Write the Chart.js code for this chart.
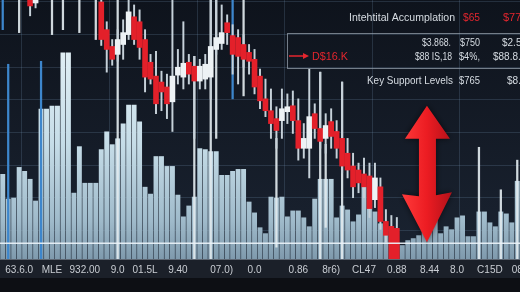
<!DOCTYPE html>
<html><head><meta charset="utf-8">
<script src="https://cdn.jsdelivr.net/npm/chart.js@4/dist/chart.umd.min.js"></script>
<style>html,body{margin:0;padding:0;background:#0e1117;}#wrap{width:520px;height:292px;position:relative;overflow:hidden}</style>
</head><body><div id="wrap"><canvas id="c" width="520" height="292"></canvas></div>
<script>
// ---------- DATA ----------
const slotCount = 95;
const volumes = [86,61,62,93,89,81,59,152,152,155,
 155,209,209,67,114,77,77,77,111,129,
 116,122,137,156,156,139,73,66,104,104,
 94,94,65,43,54,63,112,111,109,109,
 85,85,89,91,91,58,47,32,26,63,
 62,63,43,49,49,42,33,61,81,81,
 81,42,54,50,38,45,73,56,48,36,
 33,22,17,14,19,21,24,33,39,41,
 26,33,30,42,44,23,23,48,48,37,
 33,48,46,37,79];
const candleSlots = [5,6,18,19,20,21,22,23,24,25,26,27,28,29,30,31,32,33,34,35,36,37,38,39,40,41,42,43,44,45,46,47,48,49,50,51,52,53,54,55,56,57,58,59,60,61,62,63,64,65,66,67,68,69,70,71,72];
const candleOpen = [191,189.5,190,176,167.5,163.5,168.5,173.5,182.5,180,171,159.5,152.5,149.5,147,139.5,153,152,159.5,157.5,150,151,152,166,169,179.5,173,172,168.5,164.5,161,152.5,141,135,131,130,134.5,137.5,130,116,116,133.5,126,121,129.5,124.5,121,113.5,107,105,103,102,90,96.5,79,76.5,75.5];
const candleHigh = [191,191,191,180,171,176,181,191,188.5,186,176,163.5,165,155,153.5,191,166,180,163.5,162.5,161,163.5,191,191,188.5,183.5,178.5,176,173.5,168.5,166,156,151,146,137,146,143.5,145,141,128.5,156,138.5,154.5,133.5,136,130,149.5,121,113.5,108.5,111,108.5,108.5,101,85,82,81];
const candleLow = [183,187,168,154.5,158,160,161,171,168.5,161,144.5,148.5,133.5,135,131,124.5,148.5,146,148.5,121,146,146,141,163.5,166,168.5,153.5,148.5,157,153.5,143.5,136,132,121,116,121,128.5,123.5,110,111,101,121,116,113.5,116,111,103.5,101,91,93.5,91,81,86,75,68.5,60,60];
const candleClose = [188,191,171,166,161,171,174.5,185,171,167,152,151,138.5,144.5,138.5,152.5,157,159,153.5,150,157.5,158.5,167.5,172,174.5,174.5,163.5,162.5,161,160,147,140,135,128.5,125,136,137,130,116,121,132,126,119.5,127.5,122,116,107,105,96.5,98.5,96.5,85.5,101,79,72,60,60];
const spikeSlots = [0,1,3,7,9,11,14,17,21,35,38,39,42,44,50,58,59,62,87,91,94];
const spikeLow  = [176,60,174.5,60,173.5,176,174.5,171,60,60,60,121,141,142.5,66,60,76,60,60,60,60];
const spikeHigh = [191,158.5,191,160,191,191,191,191,191,162.5,191,191,191,191,121,154.5,118,149.5,116.5,95,110];
const tickLabels = ["63.6.0","MLE","932.00","9.0","01.5L","9.40","07.0)","0.0","0.86","8r6)","CL47","0.88","8.44","8.0","C15D","08"];
const tickSlots  = [3,9,15,21,26,32,40,46,54,60,66,72,78,83,89,94];
const priceGrid = [74.5, 91, 107.5, 124, 140.5, 157, 173.5, 190];
const timeGridSlots = [4, 20, 36, 52, 68, 84];
const supportLevel = 68;
const arrowSlot = 77.5, arrowHigh = 137.5, arrowLow = 68.5;

// ---------- STYLE ----------
const RED = '#e3202a', WHITE = '#edf2f5', WICK = '#c6d1d9';
const GRID = 'rgba(120,150,180,0.22)';
const blueSpikes = new Set([0,1,7,42]);

const slots = Array.from({length: slotCount}, (_, i) => i);
const bodyData = slots.map(() => null);
const wickData = slots.map(() => null);
const bodyColors = slots.map(() => 'rgba(0,0,0,0)');
candleSlots.forEach((s, k) => {
  bodyData[s] = [candleOpen[k], candleClose[k]];
  wickData[s] = [candleLow[k], candleHigh[k]];
  bodyColors[s] = candleClose[k] >= candleOpen[k] ? WHITE : RED;
});
const spikeData = slots.map(() => null);
const spikeColors = slots.map(() => '#dfe7ec');
spikeSlots.forEach((s, k) => {
  spikeData[s] = [spikeLow[k], spikeHigh[k]];
  spikeColors[s] = blueSpikes.has(s) ? '#3d86cc' : 'rgba(225,233,238,0.92)';
});
const labelAt = slots.map(() => '');
tickSlots.forEach((s, k) => { labelAt[s] = tickLabels[k]; });
const gridSet = new Set(timeGridSlots);

function volGradient(c) {
  const ch = c.chart, ca = ch.chartArea;
  if (!ca) return '#c0d6e2';
  const g = ch.ctx.createLinearGradient(0, ca.top, 0, ca.bottom);
  g.addColorStop(0, '#f0f9fc');
  g.addColorStop(0.55, '#c6dde8');
  g.addColorStop(0.85, '#a0bbcb');
  g.addColorStop(1, '#7f9aad');
  return g;
}

const bgPlugin = {
  id: 'bg',
  beforeDraw(chart) {
    const { ctx, chartArea: ca, width, height } = chart;
    ctx.save();
    ctx.fillStyle = '#0d0f14';
    ctx.fillRect(0, 0, width, height);
    const g = ctx.createLinearGradient(0, ca.top, 0, ca.bottom);
    g.addColorStop(0, '#0e131c');
    g.addColorStop(1, '#1a2331');
    ctx.fillStyle = g;
    ctx.fillRect(ca.left, ca.top, ca.right - ca.left, ca.bottom - ca.top);
    ctx.fillStyle = '#1b2029';
    ctx.fillRect(0, ca.bottom, width, 19);
    ctx.restore();
  }
};

const overlayPlugin = {
  id: 'overlay',
  afterDatasetsDraw(chart) {
    const { ctx, chartArea: ca, scales } = chart;
    ctx.save();
    const ys = scales.y.getPixelForValue(supportLevel);
    ctx.strokeStyle = 'rgba(236,243,248,0.92)';
    ctx.lineWidth = 1.5;
    ctx.beginPath(); ctx.moveTo(ca.left, ys); ctx.lineTo(ca.right, ys); ctx.stroke();
    const x = scales.x.getPixelForValue(arrowSlot);
    const yT = scales.y.getPixelForValue(arrowHigh);
    const yB = scales.y.getPixelForValue(arrowLow);
    const g = ctx.createLinearGradient(x - 25, 0, x + 25, 0);
    g.addColorStop(0, '#ff3a3a'); g.addColorStop(0.5, '#ec1c22'); g.addColorStop(1, '#b3111a');
    ctx.fillStyle = g;
    ctx.shadowColor = 'rgba(0,0,0,0.6)'; ctx.shadowBlur = 6;
    ctx.beginPath();
    ctx.moveTo(x, yT);
    ctx.lineTo(x + 23, yT + 33);
    ctx.lineTo(x + 9, yT + 33);
    ctx.lineTo(x + 9, yB - 47);
    ctx.lineTo(x + 25, yB - 50);
    ctx.lineTo(x, yB);
    ctx.lineTo(x - 25, yB - 48);
    ctx.lineTo(x - 8, yB - 46);
    ctx.lineTo(x - 8, yT + 33);
    ctx.lineTo(x - 22, yT + 33);
    ctx.closePath();
    ctx.fill();
    ctx.restore();
  },
  afterDraw(chart) {
    const { ctx } = chart;
    ctx.save();
    const white = '#d6dce2', red = '#e4262e';
    const F = (s) => s + 'px "Liberation Sans", Arial, sans-serif';
    ctx.textBaseline = 'alphabetic';
    ctx.font = F(11);
    ctx.fillStyle = white; ctx.fillText('Intehtital Accumplation', 349, 21, 106);
    ctx.fillStyle = red; ctx.fillText('$65', 463, 21, 17); ctx.fillText('$77.', 503, 21, 22);
    ctx.strokeStyle = 'rgba(150,160,172,0.75)'; ctx.lineWidth = 1;
    ctx.strokeRect(287.5, 33.5, 240, 35);
    ctx.strokeStyle = red; ctx.lineWidth = 1.5;
    ctx.beginPath(); ctx.moveTo(289, 56); ctx.lineTo(305, 56); ctx.stroke();
    ctx.fillStyle = red;
    ctx.beginPath(); ctx.moveTo(309, 56); ctx.lineTo(303, 53); ctx.lineTo(303, 59); ctx.closePath(); ctx.fill();
    ctx.font = F(11); ctx.fillText('D$16.K', 312, 60, 36);
    ctx.font = F(10); ctx.fillStyle = white;
    ctx.fillText('$3.868.', 422, 46, 29);
    ctx.fillText('$750', 460, 46, 20);
    ctx.fillText('$2.5', 502, 46, 20);
    ctx.fillText('$88 IS,18', 415, 60, 37);
    ctx.fillText('$4%,', 459, 60, 21);
    ctx.fillText('$88.8.', 493, 60, 28);
    ctx.font = F(11);
    ctx.fillText('Key Support Levels', 367, 84, 86);
    ctx.fillText('$765', 459, 84, 21);
    ctx.fillText('$8.', 507, 84, 14);
    ctx.restore();
  }
};

new Chart(document.getElementById('c'), {
  type: 'bar',
  data: {
    labels: slots,
    datasets: [
      { label: 'Candles', data: bodyData, backgroundColor: bodyColors, barThickness: 5, grouped: false, yAxisID: 'y', order: 0 },
      { label: 'Wicks', data: wickData, backgroundColor: WICK, barThickness: 1.3, grouped: false, yAxisID: 'y', order: 1 },
      { label: 'Ticks', data: spikeData, backgroundColor: spikeColors, barThickness: 1.6, grouped: false, yAxisID: 'y', order: 2 },
      { label: 'Volume', data: volumes, backgroundColor: volGradient, barPercentage: 0.9, categoryPercentage: 1, grouped: false, yAxisID: 'v', order: 3 }
    ]
  },
  options: {
    responsive: false, animation: false, devicePixelRatio: 1,
    layout: { padding: { left: 0, right: 0, top: 0, bottom: 11 } },
    plugins: { legend: { display: false }, tooltip: { enabled: false } },
    scales: {
      x: {
        offset: true,
        afterFit: (a) => { a.paddingLeft = 0; a.paddingRight = 0; },
        grid: { offset: true, drawTicks: false, lineWidth: 1,
          color: (c) => gridSet.has(c.index) ? GRID : 'rgba(0,0,0,0)' },
        border: { display: true, color: '#5d6672', width: 1 },
        ticks: { autoSkip: false, maxRotation: 0, minRotation: 0, padding: 5, color: '#c9cdd3',
          font: { family: '"Liberation Sans", Arial, sans-serif', size: 10 },
          callback: (v, i) => labelAt[i] }
      },
      y: {
        position: 'left', min: 60, max: 191,
        afterBuildTicks: (a) => { a.ticks = priceGrid.map(v => ({ value: v })); },
        afterFit: (a) => { a.width = 0; },
        grid: { color: GRID, drawTicks: false, lineWidth: 1 },
        border: { display: false },
        ticks: { display: false }
      },
      v: { display: false, min: 0, max: 262 }
    }
  },
  plugins: [bgPlugin, overlayPlugin]
});
</script>
</body></html>
